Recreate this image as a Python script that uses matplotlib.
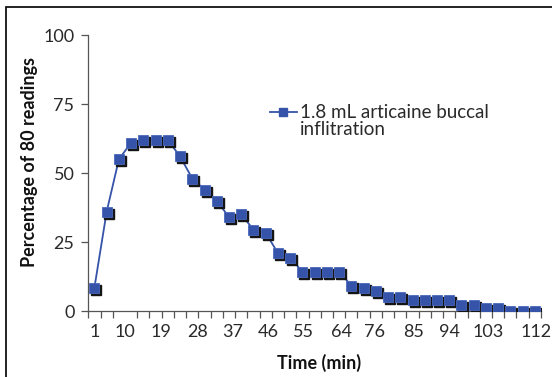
import matplotlib
matplotlib.use('Agg')
import matplotlib.pyplot as plt
import matplotlib.transforms as mtransforms
from matplotlib.lines import Line2D
from matplotlib.patches import Rectangle
import numpy as np

plt.rcParams['font.family'] = ['Lato', 'DejaVu Sans']

# percentage of 80 readings at each recorded time point
pct = [8.5, 36, 55, 61, 62, 62, 62, 56, 48, 44, 40, 34, 35, 29.5, 28.3,
       21, 19.3, 14.3, 14.3, 14.3, 14.3, 9.2, 8.3, 7.3, 5.2, 5.2, 4, 4, 4, 4,
       2.2, 2.2, 1, 1, 0, 0, 0]
tick_labels = ['1', '10', '19', '28', '37', '46', '55', '64', '76', '85', '94', '103', '112']
series_label = '1.8 mL articaine buccal\ninflitration'

blue = '#3553a8'
axis_col = '#555555'
text_col = '#2a2a2a'

fig = plt.figure(figsize=(5.52, 3.77), dpi=100)
ax = fig.add_axes([0.16, 0.175, 0.82, 0.732])

x = np.arange(len(pct))
shadow = mtransforms.offset_copy(ax.transData, fig=fig, x=2, y=-2, units='dots')
ax.plot(x, pct, color=blue, lw=1.3, zorder=2)
ax.plot(x, pct, ls='none', marker='s', ms=7.6, color='#151515', transform=shadow, zorder=3)
ax.plot(x, pct, ls='none', marker='s', ms=7.6, color=blue, mec='#4a68bb', mew=0.6, zorder=4)

ax.set_xlim(-0.5, len(pct) - 0.5)
ax.set_ylim(0, 100)
for s in ['top', 'right']:
    ax.spines[s].set_visible(False)
for s in ['left', 'bottom']:
    ax.spines[s].set_color(axis_col)
    ax.spines[s].set_linewidth(0.9)

ax.set_yticks([0, 25, 50, 75, 100])
ax.tick_params(axis='y', length=5, width=0.9, color=axis_col, pad=5,
               labelsize=13, labelcolor=text_col)

# labels sit roughly every third time point
lab_pos = [0, 2.5, 5.4, 8.4, 11.3, 14.2, 17.1, 20.2, 22.9, 26.1, 29.0, 32.2, 36.1]
ax.set_xticks(lab_pos)
ax.set_xticklabels(tick_labels)
ax.set_xticks(np.arange(-0.5, len(pct)), minor=True)
ax.tick_params(axis='x', which='major', length=0, pad=9, labelsize=13, labelcolor=text_col)
ax.tick_params(axis='x', which='minor', length=5, width=0.9, color=axis_col)

ax.set_ylabel('Percentage of 80 readings', fontsize=13, fontweight='bold', color='#111111')
ax.yaxis.set_label_coords(-0.112, 0.54)
ax.set_xlabel('Time (min)', fontsize=13, fontweight='bold', color='#111111')
ax.xaxis.set_label_coords(0.51, -0.155)

# legend drawn by hand so the handle sits on the first text line
ax.add_line(Line2D([0.401, 0.461], [0.721, 0.721], transform=ax.transAxes,
                   color=blue, lw=1.3))
ax.plot([0.431], [0.721], marker='s', ms=6, color=blue, transform=ax.transAxes, clip_on=False)
ax.text(0.468, 0.688, series_label, transform=ax.transAxes, fontsize=13.5,
        color=text_col, va='center', ha='left', linespacing=1.0)

fig.add_artist(Rectangle((6 / 552, -0.02), 1.0, 1 - 7 / 377 + 0.02, transform=fig.transFigure,
                         fill=False, lw=1.3, edgecolor='#111111'))

fig.savefig('out.png', dpi=100)
